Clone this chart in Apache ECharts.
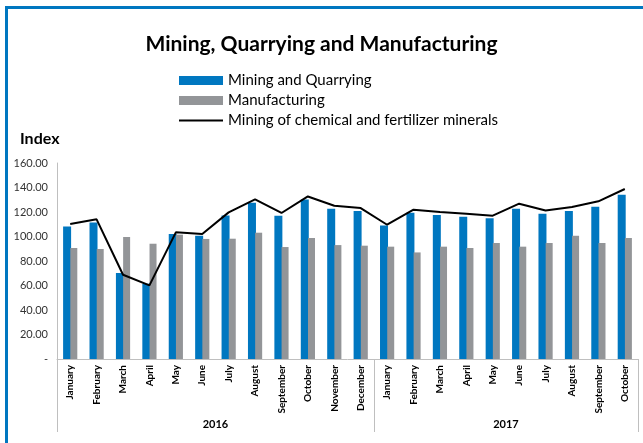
<!DOCTYPE html>
<html><head><meta charset="utf-8">
<script src="https://cdn.jsdelivr.net/npm/echarts@6/dist/echarts.min.js"></script>
<style>html,body{margin:0;padding:0;background:#fff}#c{width:643px;height:443px}</style>
</head><body><div id="c"></div>
<script>
const months = ["January","February","March","April","May","June","July","August","September","October","November","December",
                "January","February","March","April","May","June","July","August","September","October"];
const years = ["2016","2017"];
const yearStart = [0, 12, 22];
const miningQuarrying = [108.2,111.5,70.2,61.5,102,100.6,117.2,127.6,117,130.3,122.7,120.8,109,119.4,117.5,116.2,115,122.7,118.6,120.8,124.3,134.1];
const manufacturing = [90.6,89.8,99.6,94.1,101.5,98,98.2,103.1,91.4,98.8,93,92.5,91.7,87,91.7,90.6,94.7,91.7,94.7,100.6,94.7,98.8];
const chemFert = [110.2,114,68.8,60.1,103.4,102,119.7,130.3,119.2,132.7,125.1,123.2,109.6,121.9,120,118.6,117,126.8,121.3,124.1,128.7,138.8];
const yTicks = [0,20,40,60,80,100,120,140,160];

const ff = 'Lato, "Open Sans", sans-serif';
const chart = echarts.init(document.getElementById('c'));
chart.setOption({
  animation:false,
  backgroundColor:'#fff',
  title:{text:'Mining, Quarrying and Manufacturing',left:'center',top:29,
    textStyle:{fontFamily:ff,fontSize:21,fontWeight:'bold',color:'#000'}},
  legend:{orient:'vertical',left:173,top:68,itemWidth:44,itemHeight:9,itemGap:5,
    textStyle:{fontFamily:ff,fontSize:15,color:'#000'},
    data:[{name:'Mining and Quarrying',icon:'rect'},{name:'Manufacturing',icon:'rect'},
          {name:'Mining of chemical and fertilizer minerals',itemStyle:{opacity:0}}]},
  grid:{left:57,right:5,top:163,bottom:84},
  graphic:[
    {type:'text',left:20,top:131,style:{text:'Index',font:'bold 16px '+ff,fill:'#000'}},
    {type:'rect',shape:{x:5,y:6,width:638,height:3},style:{fill:'#0077c0'}},
    {type:'rect',shape:{x:5,y:6,width:3,height:437},style:{fill:'#0077c0'}}
  ],
  xAxis:[
    {type:'category',data:months,
     axisLine:{lineStyle:{color:'#bfbfbf'}},axisTick:{show:false},
     axisLabel:{rotate:90,interval:0,margin:6,fontFamily:ff,fontSize:10,fontWeight:'bold',color:'#000'}},
    {type:'value',min:0,max:22,position:'bottom',
     axisLine:{show:false},splitLine:{show:false},
     axisTick:{show:true,customValues:yearStart,length:73,lineStyle:{color:'#bfbfbf'}},
     axisLabel:{customValues:[6,17],margin:60,fontFamily:ff,fontSize:11,fontWeight:'bold',color:'#000',
       formatter:v=>v<12?years[0]:years[1]}}
  ],
  yAxis:{type:'value',min:0,max:160,interval:20,
    axisLine:{show:true,lineStyle:{color:'#bfbfbf'}},axisTick:{show:false},splitLine:{show:false},
    axisLabel:{margin:9,fontFamily:ff,fontSize:11,color:'#333',formatter:v=>v===0?'-':v.toFixed(2)}},
  series:[
    {name:'Mining and Quarrying',type:'bar',data:miningQuarrying,barWidth:8,barGap:'-10%',itemStyle:{color:'#0077c0'}},
    {name:'Manufacturing',type:'bar',data:manufacturing,barWidth:7,itemStyle:{color:'#939598'}},
    {name:'Mining of chemical and fertilizer minerals',type:'line',data:chemFert,symbol:'none',
     lineStyle:{color:'#000',width:2},itemStyle:{color:'#000'}}
  ]
});
</script></body></html>
